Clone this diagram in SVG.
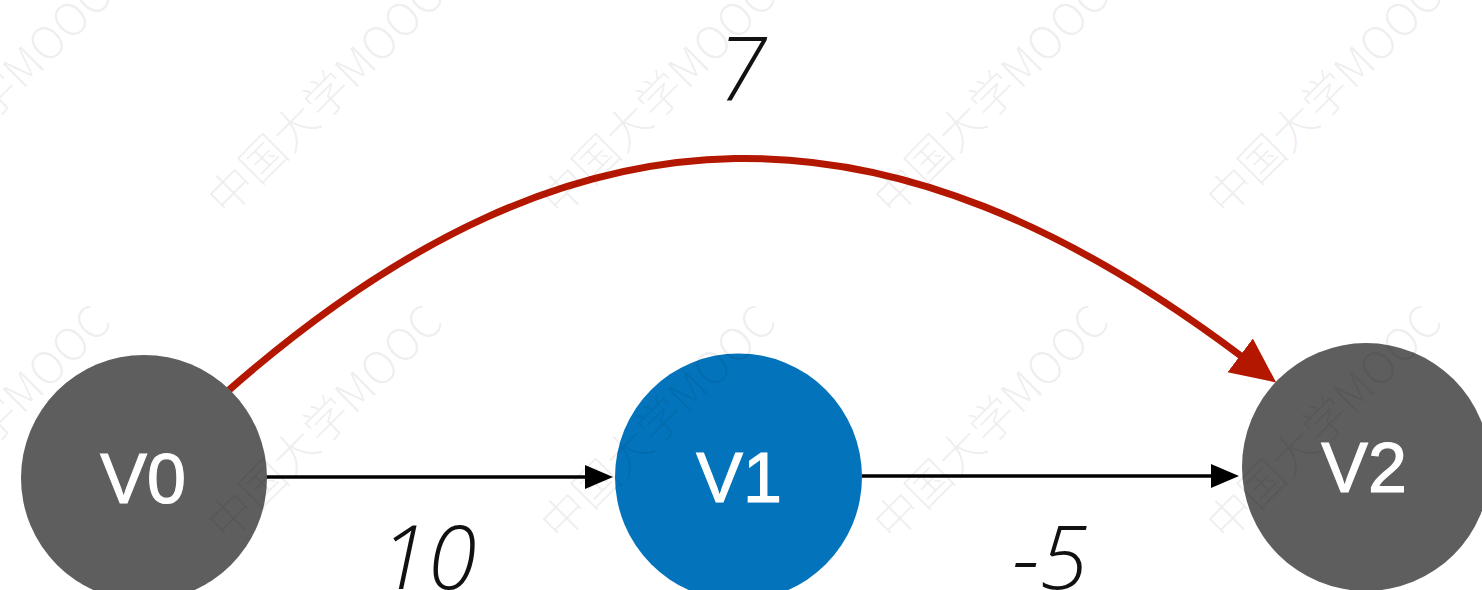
<svg xmlns="http://www.w3.org/2000/svg" width="1482" height="590" viewBox="0 0 1482 590">
<style>
.node-gray{fill:#5e5e5e}
.node-blue{fill:#0374bb}
.nlabel{font-family:"Liberation Sans",Arial,sans-serif;font-size:70px;fill:#ffffff;stroke:#ffffff;stroke-width:1.2;text-anchor:middle}
.elabel{font-family:"Open Sans","Liberation Sans",sans-serif;font-weight:300;font-style:italic;font-size:88px;fill:#111111;text-anchor:middle}
.edge{fill:none;stroke:#000000;stroke-width:3.5}
.red{fill:none;stroke:#b41700;stroke-width:7}
.wm{font-family:"Noto Sans CJK SC","Noto Sans",sans-serif;font-weight:300;font-size:45px;fill:#000000;fill-opacity:0.07}
</style>
<defs>
<marker id="ab" markerUnits="userSpaceOnUse" markerWidth="30" markerHeight="26" refX="0" refY="13" orient="auto">
<path d="M0,1 L28,13 L0,25 z" fill="#000000"/>
</marker>
<marker id="ar" markerUnits="userSpaceOnUse" markerWidth="46" markerHeight="44" refX="1" refY="22" orient="auto">
<path d="M0,1 L45,22 L0,43 z" fill="#b41700"/>
</marker>
</defs>
<rect width="1482" height="590" fill="#ffffff"/>
<g id="connectors">
<path class="red" d="M229,390 C580,82 890,92 1241,356" marker-end="url(#ar)"/>
<line class="edge" x1="262" y1="477" x2="585" y2="477" marker-end="url(#ab)"/>
<line class="edge" x1="862" y1="476" x2="1211" y2="476" marker-end="url(#ab)"/>
</g>
<g id="V0">
<circle class="node-gray" cx="144" cy="478" r="123"/>
<text class="nlabel" x="143" y="503">V0</text>
</g>
<g id="V1">
<circle class="node-blue" cx="738.5" cy="477" r="123.5"/>
<text class="nlabel" x="739" y="502">V1</text>
</g>
<g id="V2">
<circle class="node-gray" cx="1366" cy="467" r="124"/>
<text class="nlabel" x="1364" y="492">V2</text>
</g>
<g id="edge-labels">
<text class="elabel" x="742" y="100">7</text>
<text class="elabel" x="428" y="589">10</text>
<text class="elabel" x="1050" y="589">-5</text>
</g>
<g id="watermark">
<text class="wm" transform="translate(-105,218) rotate(-45)">中国大学MOOC</text>
<text class="wm" transform="translate(227,218) rotate(-45)">中国大学MOOC</text>
<text class="wm" transform="translate(560,218) rotate(-45)">中国大学MOOC</text>
<text class="wm" transform="translate(893,218) rotate(-45)">中国大学MOOC</text>
<text class="wm" transform="translate(1226,218) rotate(-45)">中国大学MOOC</text>
<text class="wm" transform="translate(-105,543) rotate(-45)">中国大学MOOC</text>
<text class="wm" transform="translate(227,543) rotate(-45)">中国大学MOOC</text>
<text class="wm" transform="translate(560,543) rotate(-45)">中国大学MOOC</text>
<text class="wm" transform="translate(893,543) rotate(-45)">中国大学MOOC</text>
<text class="wm" transform="translate(1226,543) rotate(-45)">中国大学MOOC</text>
</g>
</svg>
